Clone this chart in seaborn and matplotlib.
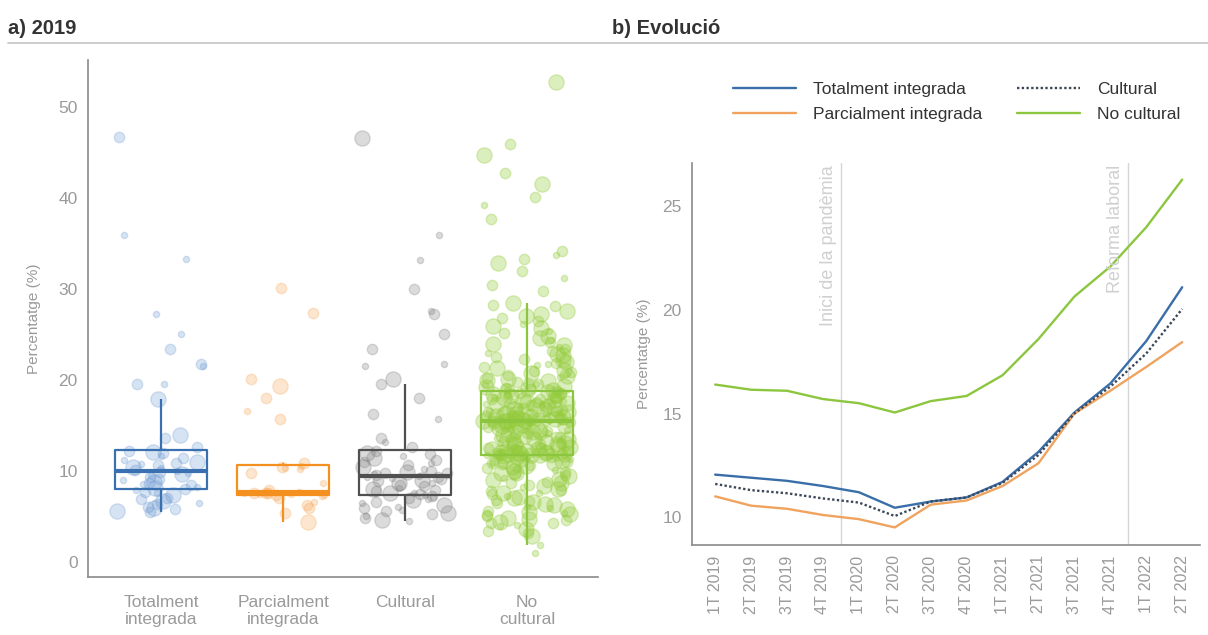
import numpy as np
import pandas as pd
import matplotlib
matplotlib.use("Agg")
import matplotlib.pyplot as plt
import seaborn as sns

# ---- dades panell a) 2019 ----
categories = ["Totalment\nintegrada", "Parcialment\nintegrada", "Cultural", "No\ncultural"]

tot_vals = [46.7, 36.0, 33.3, 27.2, 25.1, 23.4, 21.7, 21.5, 19.6, 19.5, 17.9, 13.9, 13.6, 12.6,
            12.2, 12.1, 11.9, 11.6, 11.4, 11.2, 11.0, 10.9, 10.7, 10.6, 10.4, 10.3, 10.1, 10.0,
            9.9, 9.8, 9.6, 9.5, 9.3, 9.1, 9.0, 8.8, 8.7, 8.5, 8.4, 8.2, 8.1, 8.0,
            7.9, 7.7, 7.5, 7.3, 7.0, 6.9, 6.7, 6.5, 6.3, 6.0, 5.9, 5.8, 5.6, 5.5]
tot_size = "21111221213322" "23212132123121" "21312213212132" "12132231223232"

parc_vals = [30.1, 27.4, 20.1, 19.3, 18.0, 16.6, 15.7, 10.9, 10.5, 10.4, 10.3, 10.2, 9.8, 8.6,
             7.9, 7.7, 7.6, 7.6, 7.55, 7.5, 7.5, 7.45, 7.4, 7.35, 7.3, 7.2, 7.0, 6.6, 6.2, 5.9,
             5.4, 4.4]
parc_size = "22232122" "12112121" "21212112" "11212223"

cult_vals = [46.6, 36.0, 33.2, 30.0, 27.6, 27.2, 25.0, 23.4, 21.8, 21.5, 20.1, 19.5, 18.0, 16.2,
             15.7, 13.6, 13.2, 12.6,
             12.2, 12.0, 11.8, 11.6, 11.4, 11.2, 11.0, 10.8, 10.6, 10.4, 10.2, 10.0, 9.9, 9.8,
             9.7, 9.6, 9.5, 9.45,
             9.35, 9.3, 9.2, 9.1, 9.0, 8.9, 8.7, 8.6, 8.4, 8.3, 8.1, 8.0, 7.9, 7.8, 7.6, 7.5,
             7.4, 7.3,
             7.2, 7.1, 7.0, 6.9, 6.8, 6.6, 6.4, 6.2, 6.0, 5.9, 5.7, 5.6, 5.4, 5.2, 5.0, 4.8,
             4.6, 4.5]
cult_size = "311212221132221212" "232132212312322121" "121232312213221321" "212132131212321231"

nocult_vals = [52.8, 46.0, 44.8, 42.8, 41.6, 40.1, 39.2, 37.7, 34.2, 33.8, 33.3, 32.9, 32.0, 31.2,
               30.5, 29.8, 28.5, 28.1, 27.6, 27.0, 26.5, 26.1, 25.7, 25.2, 24.8, 24.4, 24.0, 23.6,
               23.2, 22.9, 22.5, 22.2, 21.9, 21.6, 21.3, 21.0, 20.8, 20.5, 20.3, 20.1, 19.9, 19.7,
               19.5, 19.4, 19.2, 19.1, 19.0, 18.9, 18.85, 18.8,
               18.7, 18.6, 18.5, 18.5, 18.4, 18.3, 18.2, 18.1, 18.0, 17.9, 17.9, 17.8, 17.7, 17.6,
               17.5, 17.4, 17.4, 17.3, 17.2, 17.1, 17.0, 16.9, 16.9, 16.8, 16.7, 16.6, 16.5, 16.5,
               16.4, 16.3, 16.2, 16.2, 16.1, 16.0, 16.0, 15.9, 15.9, 15.8, 15.8, 15.7, 15.7, 15.7,
               15.6, 15.6, 15.6, 15.5, 15.5, 15.5, 15.5, 15.5,
               15.4, 15.3, 15.2, 15.1, 15.0, 14.9, 14.8, 14.7, 14.6, 14.5, 14.4, 14.3, 14.2, 14.1,
               14.0, 13.9, 13.8, 13.7, 13.6, 13.5, 13.4, 13.3, 13.2, 13.1, 13.0, 12.9, 12.9, 12.8,
               12.7, 12.6, 12.6, 12.5, 12.4, 12.4, 12.3, 12.2, 12.2, 12.1, 12.1, 12.0, 12.0, 11.9,
               11.9, 11.9, 11.8, 11.8, 11.8, 11.7, 11.7, 11.7,
               11.6, 11.5, 11.4, 11.3, 11.2, 11.1, 11.0, 10.9, 10.8, 10.6, 10.5, 10.3, 10.2, 10.0,
               9.9, 9.7, 9.6, 9.4, 9.2, 9.0, 8.8, 8.6, 8.4, 8.2, 8.0, 7.8, 7.6, 7.4, 7.2, 7.0,
               6.8, 6.6, 6.4, 6.2, 6.0, 5.8, 5.6, 5.4, 5.2, 5.0, 4.8, 4.6, 4.4, 4.2, 4.0, 3.6,
               3.2, 2.8, 1.8, 0.9,
               28.2, 27.3, 26.8, 25.9, 25.4, 24.6, 24.2, 23.8, 23.4, 23.0, 22.7, 22.3, 22.0, 21.7,
               21.4, 21.1, 20.9, 20.6, 20.4, 20.2, 20.0, 19.8, 19.6, 19.3, 19.0,
               18.75, 18.6, 18.4, 18.2, 18.0, 17.8, 17.6, 17.5, 17.3, 17.1, 16.9, 16.8, 16.6, 16.4,
               16.3, 16.1, 16.0, 15.9, 15.8, 15.7, 15.65, 15.6, 15.55, 15.5, 15.5,
               15.45, 15.3, 15.1, 14.9, 14.7, 14.5, 14.3, 14.1, 13.9, 13.7, 13.5, 13.3, 13.1, 12.9,
               12.7, 12.5, 12.4, 12.3, 12.2, 12.1, 12.0, 11.9, 11.8, 11.75, 11.7,
               11.65, 11.5, 11.3, 11.1, 10.9, 10.7, 10.4, 10.1, 9.8, 9.5, 9.1, 8.7, 8.3, 7.9,
               7.5, 7.1, 6.7, 6.3, 5.9, 5.5, 5.1, 4.7, 4.3, 3.9, 3.4]
nocult_size = ("32323212212321223233" "21323131232321323213" "32213231323212332132"
               "23132321231323213232" "31232132323213231323" "21323323132312323213"
               "32312323213232132323" "23213231323213232132" "32132323132321323213"
               "23231321323232132311"
               "23231323213231232132" "32132321323231323213" "21323132323123213232"
               "32313232132321323132" "23132323213231323212")

# ---- dades panell b) Evolució ----
trimestres = ["1T 2019", "2T 2019", "3T 2019", "4T 2019", "1T 2020", "2T 2020", "3T 2020",
              "4T 2020", "1T 2021", "2T 2021", "3T 2021", "4T 2021", "1T 2022", "2T 2022"]
evo_totalment = [12.05, 11.9, 11.75, 11.5, 11.2, 10.45, 10.75, 10.95, 11.7, 13.15, 15.05, 16.45, 18.5, 21.1]
evo_parcialment = [11.0, 10.55, 10.4, 10.1, 9.9, 9.5, 10.6, 10.8, 11.5, 12.6, 15.0, 16.1, 17.25, 18.45]
evo_cultural = [11.6, 11.3, 11.15, 10.9, 10.7, 10.05, 10.75, 10.95, 11.65, 13.0, 15.0, 16.3, 17.9, 20.05]
evo_nocultural = [16.4, 16.15, 16.1, 15.7, 15.5, 15.05, 15.6, 15.85, 16.85, 18.6, 20.65, 22.1, 24.0, 26.3]

# ---- estil ----
sns.set_style("white")
plt.rcParams["font.family"] = ["Liberation Sans", "DejaVu Sans"]
gris_txt = "#9a9a9a"
gris_eix = "#8a8a8a"

punt_col = {categories[0]: "#6f9bd3", categories[1]: "#f7a857",
            categories[2]: "#808080", categories[3]: "#94cc3c"}
punt_alpha = {categories[0]: 0.28, categories[1]: 0.28, categories[2]: 0.28, categories[3]: 0.33}
caixa_col = {categories[0]: "#3a70b0", categories[1]: "#f39020",
             categories[2]: "#505050", categories[3]: "#8cc63f"}

rows = []
for cat, vals, mides in zip(categories, [tot_vals, parc_vals, cult_vals, nocult_vals],
                            [tot_size, parc_size, cult_size, nocult_size]):
    for v, m in zip(vals, mides):
        rows.append({"grup": cat, "valor": v, "mida": int(m)})
df = pd.DataFrame(rows)

fig = plt.figure(figsize=(12.08, 6.35), dpi=100)
ax1 = fig.add_axes([0.0728, 0.0913, 0.422, 0.814])
ax2 = fig.add_axes([0.573, 0.1417, 0.4205, 0.6016])

# ---- a) 2019 ----
np.random.seed(7)
marker_px = {1: 4.5, 2: 7.5, 3: 11}
for cat in categories:
    for m, ms in marker_px.items():
        sub = df[(df["grup"] == cat) & (df["mida"] == m)]
        sns.stripplot(data=sub, x="grup", y="valor", order=categories,
                      color=punt_col[cat], jitter=0.36, size=ms, alpha=punt_alpha[cat],
                      linewidth=1, edgecolor=punt_col[cat], ax=ax1, zorder=1)

sns.boxplot(data=df, x="grup", y="valor", hue="grup", order=categories, palette=caixa_col,
            fill=False, width=0.76, showfliers=False, showcaps=False, whis=1.5,
            linewidth=1.6, medianprops={"linewidth": 3}, legend=False, ax=ax1)

ax1.set_xlim(-0.6, 3.58)
ax1.set_ylim(-1.7, 55.2)
ax1.set_yticks([0, 10, 20, 30, 40, 50])
ax1.set_xlabel("")
ax1.set_ylabel("Percentatge (%)", color=gris_txt, fontsize=11, labelpad=12)

# ---- b) Evolució ----
series = [("Totalment integrada", evo_totalment, "#3a6ea8", "-"),
          ("Parcialment integrada", evo_parcialment, "#f0a35e", "-"),
          ("Cultural", evo_cultural, "#3c4858", (0, (1, 1))),
          ("No cultural", evo_nocultural, "#8cc63f", "-")]
for nom, vals, col, ls in series:
    sns.lineplot(x=trimestres, y=vals, color=col, linestyle=ls, linewidth=1.7,
                 label=nom, ax=ax2, sort=False)

ax2.set_xlim(-0.64, 13.5)
ax2.set_ylim(8.65, 27.1)
ax2.set_yticks([10, 15, 20, 25])
ax2.axvline(3.5, color="#d6d6d6", linewidth=1, zorder=0)
ax2.axvline(11.5, color="#d6d6d6", linewidth=1, zorder=0)
ax2.text(3.38, 27.0, "Inici de la pandèmia", rotation=90, ha="right", va="top",
         color="#d0d0d0", fontsize=13)
ax2.text(11.38, 27.0, "Reforma laboral", rotation=90, ha="right", va="top",
         color="#d0d0d0", fontsize=13)
ax2.set_xlabel("")
ax2.set_ylabel("Percentatge (%)", color=gris_txt, fontsize=11, labelpad=8)
ax2.tick_params(axis="x", rotation=90, labelsize=11.5)
ax2.legend(ncol=2, frameon=False, fontsize=12.5, handlelength=3.6, columnspacing=2.0,
           handletextpad=1.0, labelspacing=0.55, loc="upper left",
           bbox_to_anchor=(0.594, 0.895), bbox_transform=fig.transFigure)
for t in ax2.get_legend().get_texts():
    t.set_color("#333333")

for ax in (ax1, ax2):
    sns.despine(ax=ax)
    for s in ("left", "bottom"):
        ax.spines[s].set_color(gris_eix)
        ax.spines[s].set_linewidth(1.2)
    ax.tick_params(axis="both", colors=gris_eix, labelcolor=gris_txt, direction="out",
                   length=4, width=1)
    ax.tick_params(axis="y", labelsize=12.5)
ax1.tick_params(axis="x", labelsize=12.5, pad=9)

# ---- títols i línia de capçalera ----
fig.text(0.007, 0.955, "a) 2019", fontsize=14.5, fontweight="bold", color="#333333", va="center")
fig.text(0.507, 0.955, "b) Evolució", fontsize=14.5, fontweight="bold", color="#333333", va="center")
fig.add_artist(plt.Line2D([0.007, 1.0], [0.932, 0.932], color="#c8c8c8", linewidth=1.3))

fig.savefig("out.png", dpi=100)
